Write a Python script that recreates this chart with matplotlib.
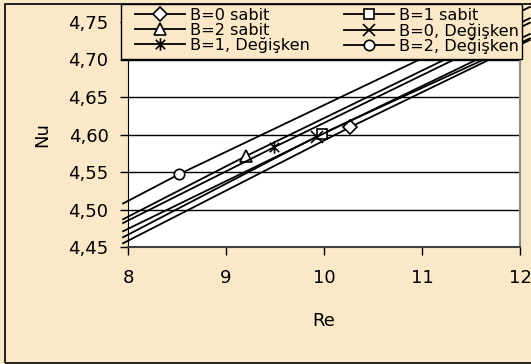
import matplotlib
matplotlib.use("Agg")
import matplotlib.pyplot as plt
from matplotlib.path import Path
from matplotlib.patches import Rectangle
from matplotlib.ticker import FuncFormatter

# Nusselt number vs Reynolds number for constant / variable property cases
labels = ["B=0 sabit", "B=1 sabit", "B=2 sabit",
          "B=0, Değişken", "B=1, Değişken", "B=2, Değişken"]

re_b0_sabit = [7.95, 10.27, 12.1]
nu_b0_sabit = [4.455, 4.610, 4.726]

re_b1_sabit = [7.95, 9.98, 12.1]
nu_b1_sabit = [4.463, 4.601, 4.728]

re_b2_sabit = [7.95, 9.20, 12.1]
nu_b2_sabit = [4.487, 4.571, 4.755]

re_b0_deg = [7.95, 9.93, 12.1]
nu_b0_deg = [4.471, 4.597, 4.734]

re_b1_deg = [7.95, 9.49, 12.1]
nu_b1_deg = [4.482, 4.583, 4.749]

re_b2_deg = [7.95, 8.52, 12.1]
nu_b2_deg = [4.508, 4.547, 4.770]

x_ticks = [8, 9, 10, 11, 12]
y_ticks = [4.45, 4.50, 4.55, 4.60, 4.65, 4.70, 4.75]

BG = "#FAE8C8"
W, H = 531, 364

# six-armed asterisk marker (vertical stroke plus a cross)
ast = Path([(0, -1), (0, 1), (-0.75, -0.75), (0.75, 0.75), (-0.75, 0.75), (0.75, -0.75)],
           [Path.MOVETO, Path.LINETO, Path.MOVETO, Path.LINETO, Path.MOVETO, Path.LINETO])

series = [
    (re_b0_sabit, nu_b0_sabit, "D", 7),
    (re_b1_sabit, nu_b1_sabit, "s", 7),
    (re_b2_sabit, nu_b2_sabit, "^", 8),
    (re_b0_deg, nu_b0_deg, "x", 8),
    (re_b1_deg, nu_b1_deg, ast, 9),
    (re_b2_deg, nu_b2_deg, "o", 7.5),
]

fig = plt.figure(figsize=(W / 100, H / 100), dpi=100)
fig.patch.set_facecolor(BG)

ax = fig.add_axes([128 / W, 1 - 247 / H, (520 - 128) / W, (247 - 22) / H])
ax.set_facecolor("white")

handles = []
for (xs, ys, mk, ms), lab in zip(series, labels):
    (h,) = ax.plot(xs, ys, color="black", lw=1.3, marker=mk, ms=ms,
                   markevery=[1], mfc="white", mec="black", mew=1.2,
                   label=lab, clip_on=False, zorder=3)
    handles.append(h)

ax.set_xlim(8, 12)
ax.set_ylim(4.45, 4.75)
ax.set_xticks(x_ticks)
ax.set_yticks(y_ticks)
ax.yaxis.set_major_formatter(FuncFormatter(lambda v, p: f"{v:.2f}".replace(".", ",")))
ax.xaxis.set_major_formatter(FuncFormatter(lambda v, p: f"{v:.0f}"))
ax.grid(axis="y", color="black", lw=1.0, zorder=1)
ax.set_axisbelow(True)

for side in ["top", "right"]:
    ax.spines[side].set_color("#8c8c8c")
    ax.spines[side].set_linewidth(1.5)
ax.spines["left"].set_color("black")
ax.spines["bottom"].set_color("#404040")
ax.spines["bottom"].set_linewidth(1.5)

ax.tick_params(axis="both", direction="out", length=6, width=1, color="black",
               labelsize=13)
ax.tick_params(axis="y", pad=8)
ax.tick_params(axis="x", pad=10)

ax.set_xlabel("Re", fontsize=13, labelpad=17.5)
ax.set_ylabel("Nu", fontsize=13, labelpad=12)

# legend box (opaque, covers the top of the plot area)
fig.add_artist(Rectangle((120.5 / W, 1 - 58.5 / H), (522 - 120.5) / W, (58.5 - 4.5) / H,
                         transform=fig.transFigure, fc=BG, ec="black", lw=1.0,
                         zorder=9))

# legend entries laid out row by row, two columns
order = [0, 2, 4, 1, 3, 5]
leg = fig.legend([handles[i] for i in order], [labels[i] for i in order],
                 ncol=2, loc="upper left",
                 bbox_to_anchor=(135 / W, 1 - 8 / H, (519 - 135) / W, 0), mode="expand",
                 fontsize=11.6, frameon=False,
                 borderaxespad=0, borderpad=0, labelspacing=-0.03,
                 handlelength=3.1, handletextpad=0.3, columnspacing=1.0)
leg.set_zorder(10)

# outer chart frame
fig.add_artist(Rectangle((4.5 / W, 1 - 362.5 / H), (W + 10) / W, (362.5 - 3.5) / H,
                         transform=fig.transFigure, fill=False, ec="black", lw=1.2,
                         zorder=0))

fig.savefig("out.png", dpi=100, facecolor=BG)
